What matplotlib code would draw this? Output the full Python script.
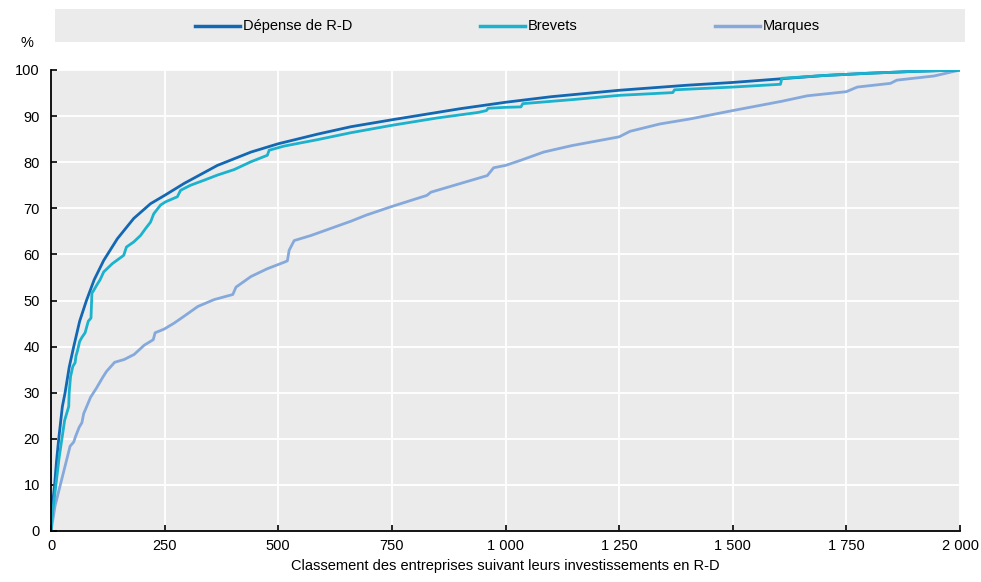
import matplotlib
matplotlib.use("Agg")
import matplotlib.pyplot as plt
from matplotlib.patches import Rectangle
from matplotlib.lines import Line2D
from matplotlib.ticker import FuncFormatter

plt.rcParams['font.family'] = ['Liberation Sans Narrow', 'Liberation Sans', 'DejaVu Sans']

# ---- data ----
rd_rank = [0, 2, 4, 8, 12, 17, 21, 25, 31, 40, 50, 63, 78, 95, 116, 146, 182, 219, 250, 293,
           366, 440, 500, 587, 660, 750, 800, 850, 900, 950, 1000, 1100, 1250, 1400, 1500, 1607,
           1700, 1800, 1900, 2000]
rd_pct = [0, 4, 6.5, 10, 15, 20, 23.5, 27, 30, 35.5, 40, 45.5, 50, 54.5, 58.7, 63.4, 67.8, 71.0,
          72.8, 75.4, 79.3, 82.2, 84.0, 86.1, 87.7, 89.2, 90.0, 90.8, 91.6, 92.3, 93.0, 94.2, 95.6,
          96.7, 97.3, 98.1, 98.8, 99.3, 99.7, 100]

pat_rank = [0, 3, 6, 12, 18, 24, 30, 36, 39, 40, 43, 48, 53, 55, 58, 63, 68, 75, 82, 88, 90,
            94, 101, 108, 116, 135, 160, 166, 182, 197, 208, 219, 226, 241, 252, 278, 285, 307,
            337, 366, 403, 440, 476, 480, 513, 587, 660, 750, 850, 940, 958, 962, 1000, 1034, 1038,
            1150, 1250, 1368, 1372, 1500, 1605, 1608, 1700, 1800, 1900, 2000]
pat_pct = [0, 4, 6, 11, 16, 20, 24, 26, 27, 30, 33.5, 35.7, 36.5, 38, 39, 41.1, 42, 43, 45.5, 46.2,
           51.6, 52.2, 53.4, 54.5, 56.2, 58.0, 59.8, 61.6, 62.7, 64.1, 65.6, 67.0, 68.8, 70.7, 71.4,
           72.5, 73.9, 75.0, 76.1, 77.2, 78.4, 80.1, 81.5, 82.6, 83.5, 84.9, 86.4, 88.0, 89.6, 90.8,
           91.2, 91.7, 91.9, 92.0, 92.7, 93.6, 94.5, 95.1, 95.7, 96.3, 96.9, 98.2, 98.8, 99.3, 99.7,
           100]

tm_rank = [0, 2, 9, 20, 31, 42, 50, 54, 62, 68, 72, 76, 87, 100, 113, 122, 140, 161, 183, 205,
           225, 229, 249, 271, 293, 323, 359, 400, 407, 440, 476, 513, 520, 524, 535, 572, 623,
           660, 693, 750, 827, 836, 960, 974, 1000, 1036, 1084, 1146, 1250, 1274, 1340, 1407,
           1500, 1607, 1664, 1750, 1774, 1847, 1861, 1943, 2000]
tm_pct = [0, 1.2, 5.5, 9.8, 14.1, 18.4, 19.3, 20.5, 22.5, 23.5, 25.5, 26.4, 29.0, 31.0, 33.2, 34.6,
          36.6, 37.2, 38.3, 40.3, 41.5, 43.0, 43.8, 45.1, 46.6, 48.7, 50.2, 51.3, 52.9, 55.2, 56.9,
          58.3, 58.6, 60.9, 63.0, 64.1, 65.9, 67.2, 68.5, 70.4, 72.8, 73.5, 77.1, 78.8, 79.3, 80.5,
          82.2, 83.6, 85.5, 86.7, 88.3, 89.4, 91.2, 93.2, 94.4, 95.3, 96.3, 97.1, 97.8, 98.7, 100]

series_names = ["Dépense de R-D", "Brevets", "Marques"]
colors = ["#1268B3", "#1BB2CE", "#86A9DC"]
x_ticks = [0, 250, 500, 750, 1000, 1250, 1500, 1750, 2000]
y_ticks = [0, 10, 20, 30, 40, 50, 60, 70, 80, 90, 100]
x_label = "Classement des entreprises suivant leurs investissements en R-D"
y_unit = "%"

# ---- figure ----
fig = plt.figure(figsize=(9.81, 5.82), dpi=100)
ax = fig.add_axes([51/981, 1-531/582, (960-51)/981, (531-70)/582])
ax.set_facecolor("#EBEBEB")

lw = 2.0
ax.plot(rd_rank, rd_pct, color=colors[0], lw=lw, zorder=3, solid_joinstyle='round')
ax.plot(pat_rank, pat_pct, color=colors[1], lw=lw, zorder=4, solid_joinstyle='round')
ax.plot(tm_rank, tm_pct, color=colors[2], lw=lw, zorder=2, solid_joinstyle='round')

ax.set_xlim(0, 2000)
ax.set_ylim(0, 100)
ax.set_xticks(x_ticks)
ax.set_yticks(y_ticks)
ax.xaxis.set_major_formatter(FuncFormatter(lambda v, p: f"{int(v):,}".replace(",", " ")))
ax.grid(True, color="white", lw=1.3)
ax.set_axisbelow(True)
for s in ["top", "right"]:
    ax.spines[s].set_visible(False)
for s in ["left", "bottom"]:
    ax.spines[s].set_color("black")
    ax.spines[s].set_linewidth(1.3)
    ax.spines[s].set_zorder(5)
ax.tick_params(axis="both", direction="in", length=4, width=1.2, labelsize=10.5, colors="black", pad=6)
ax.tick_params(axis="y", pad=8)
ax.set_xlabel(x_label, fontsize=10.5, labelpad=4)
fig.text(27/981, 1-43/582, y_unit, fontsize=10.5, ha="center", va="center")

# legend box
fig.patches.append(Rectangle((55/981, 1-42/582), (965-55)/981, 33/582,
                             transform=fig.transFigure, facecolor="#EBEBEB", edgecolor="none", zorder=0))
leg_x = [195, 480, 715]
ly = 1-26/582
for i, name in enumerate(series_names):
    x0 = leg_x[i]/981
    fig.lines.append(Line2D([x0, x0 + 45/981], [ly, ly], transform=fig.transFigure,
                            color=colors[i], lw=2.5))
    fig.text(x0 + 48/981, ly, name, fontsize=10.5, ha="left", va="center")

fig.savefig("out.png", dpi=100)
